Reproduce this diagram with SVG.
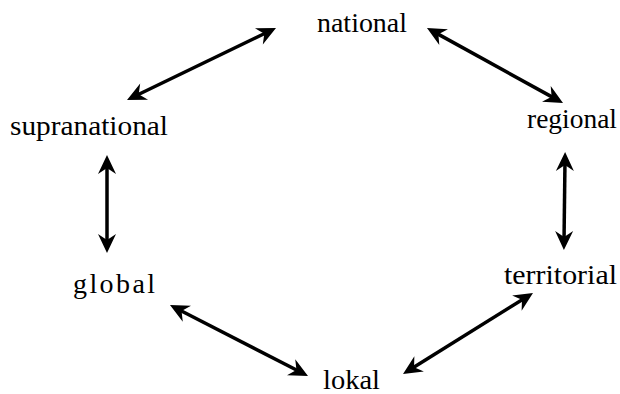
<svg xmlns="http://www.w3.org/2000/svg" width="620" height="394" viewBox="0 0 620 394">
  <style>
    .lbl { font-family: "Liberation Serif", "Times New Roman", serif; font-size: 28px; fill: #000; }
    .conn { stroke: #000; stroke-width: 3.5; fill: none; marker-start: url(#ah); marker-end: url(#ah); }
  </style>
  <defs>
    <marker id="ah" markerUnits="userSpaceOnUse" markerWidth="24" markerHeight="24" refX="0" refY="0" orient="auto-start-reverse" overflow="visible">
      <path d="M8,0 L-11,-9 L-5,0 L-11,9 Z" fill="#000"/>
    </marker>
  </defs>
  <rect width="620" height="394" fill="#fff"/>
  <g id="connectors">
    <line class="conn" x1="268.8" y1="31.5" x2="134.2" y2="96.5"/>
    <line class="conn" x1="434.0" y1="31.9" x2="556.0" y2="99.1"/>
    <line class="conn" x1="107" y1="163" x2="107" y2="245"/>
    <line class="conn" x1="565" y1="160" x2="564" y2="242"/>
    <line class="conn" x1="177.1" y1="308.7" x2="300.9" y2="372.3"/>
    <line class="conn" x1="526.2" y1="297.2" x2="409.8" y2="369.8"/>
  </g>
  <g id="national"><text class="lbl" x="317" y="32" textLength="90" lengthAdjust="spacingAndGlyphs">national</text></g>
  <g id="supranational"><text class="lbl" x="10" y="135" textLength="158" lengthAdjust="spacingAndGlyphs">supranational</text></g>
  <g id="regional"><text class="lbl" x="527" y="128" textLength="90" lengthAdjust="spacingAndGlyphs">regional</text></g>
  <g id="global"><text class="lbl" x="73" y="293" textLength="82">global</text></g>
  <g id="territorial"><text class="lbl" x="504" y="284" textLength="113" lengthAdjust="spacingAndGlyphs">territorial</text></g>
  <g id="lokal"><text class="lbl" x="323" y="389" textLength="57" lengthAdjust="spacingAndGlyphs">lokal</text></g>
</svg>
